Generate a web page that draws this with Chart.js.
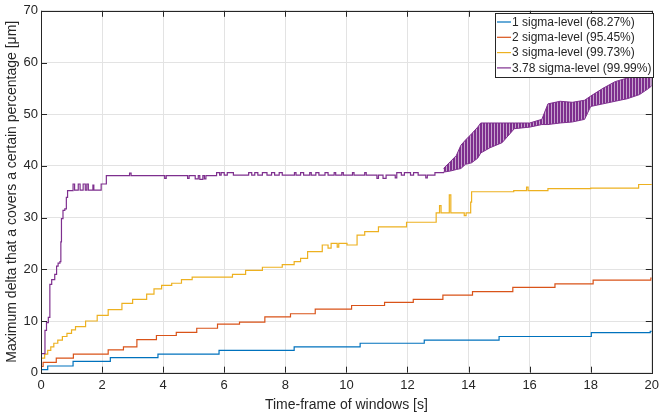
<!DOCTYPE html>
<html>
<head>
<meta charset="utf-8">
<script src="https://cdn.jsdelivr.net/npm/chart.js@4"></script>
<style>
  body { margin: 0; background: #fff; }
  canvas { display: block; }
</style>
</head>
<body>
<canvas id="chart" width="664" height="418"></canvas>
<script>
const seriesLabels = ["1 sigma-level (68.27%)", "2 sigma-level (95.45%)", "3 sigma-level (99.73%)", "3.78 sigma-level (99.99%)"];
const seriesColors = ["#0072BD", "#D95319", "#EDB120", "#7E2F8E"];

const xTicks = [0, 2, 4, 6, 8, 10, 12, 14, 16, 18, 20];
const yTicks = [0, 10, 20, 30, 40, 50, 60, 70];

// 1 sigma
const blueT = [0, 0.22, 1.05, 2.27, 3.83, 5.83, 8.29, 10.45, 12.55, 15.0, 18.02, 19.95, 20];
const blueV = [0.6, 1.3, 2.2, 2.9, 3.6, 4.3, 5.0, 5.7, 6.3, 7.0, 7.75, 8.0, 8.0];

// 2 sigma
const orangeT = [0, 0.07, 0.5, 1.06, 2.2, 2.7, 3.14, 3.78, 4.43, 5.1, 5.78, 6.5, 7.33, 8.17, 8.98, 10.17, 11.25, 12.19, 13.16, 14.13, 15.45, 16.83, 18.08, 19.97, 20];
const orangeV = [1.2, 2.0, 2.8, 3.6, 4.4, 5.0, 6.4, 7.2, 7.8, 8.6, 9.4, 9.8, 10.8, 11.4, 12.3, 13.0, 13.6, 14.2, 15.0, 15.7, 16.5, 17.2, 17.9, 18.3, 18.3];

// 3 sigma
const yellowT = [0, 0.12, 0.22, 0.32, 0.42, 0.55, 0.7, 0.85, 1.0, 1.13, 1.46, 1.84, 2.2, 2.65, 3.0, 3.46, 3.7, 3.95, 4.28, 4.6, 4.95, 6.27, 6.7, 7.25, 7.9, 8.29, 8.5, 8.73, 9.21, 9.4, 9.5, 9.7, 9.75, 10.02, 10.35, 10.6, 11.05, 11.97, 12.94, 13.05, 13.1, 13.37, 13.42, 13.86, 13.92, 14.07, 14.1, 15.48, 15.9, 15.95, 16.6, 18.0, 19.57, 20];
const yellowV = [2.8, 3.6, 4.3, 5.0, 5.7, 6.3, 7.0, 7.6, 8.3, 8.9, 10.0, 11.1, 12.2, 13.4, 14.2, 15.2, 16.2, 16.9, 17.3, 18.0, 18.5, 19.0, 19.8, 20.4, 20.9, 21.5, 22.1, 23.4, 24.7, 24.1, 25.0, 24.3, 25.0, 24.7, 26.6, 27.3, 28.2, 29.1, 30.9, 32.3, 30.9, 34.4, 30.9, 30.4, 30.9, 33.0, 35.0, 35.2, 35.9, 35.2, 35.6, 35.7, 36.4, 36.5];

// 3.78 sigma, up to where it starts to oscillate
const purpleT = [0, 0.13, 0.18, 0.24, 0.29, 0.35, 0.45, 0.51, 0.56, 0.62, 0.65, 0.67, 0.72, 0.78, 0.83, 0.87, 1.05, 1.1, 1.22, 1.28, 1.38, 1.45, 1.5, 1.55, 1.7, 1.73, 1.97, 2.14,
  2.9, 2.95, 4.05, 4.1, 4.8, 4.85, 5.05, 5.15, 5.2, 5.3, 5.35, 5.4, 5.75, 5.85, 5.9, 6.0, 6.1, 6.3,
  6.8, 6.9, 7.0, 7.1, 7.25, 7.4, 7.55, 7.65, 7.8, 7.9, 8.3, 8.35, 8.5, 8.6, 8.8, 8.85, 9.0, 9.1, 9.3, 9.4,
  9.6, 9.65, 9.85, 9.9, 10.2, 10.25, 10.6, 10.65, 11.0, 11.05, 11.2, 11.3, 11.6, 11.65, 11.8, 11.9, 12.1, 12.2, 12.35,
  12.6, 12.65, 12.9, 13.18];
const purpleV = [3.7, 8.2, 9.7, 10.7, 17.1, 18.0, 19.0, 20.6, 21.2, 21.5, 25.3, 29.8, 31.4, 31.7, 33.9, 35.2, 36.5, 35.3, 36.5, 35.3, 36.5, 35.3, 36.5, 35.3, 36.3, 35.3, 36.5, 38.1,
  38.6, 38.1, 37.6, 38.1, 37.6, 38.1, 37.5, 38.1, 37.4, 38.1, 37.5, 38.1, 38.7, 38.2, 38.7, 38.2, 38.7, 38.2,
  38.7, 38.2, 38.7, 38.2, 38.7, 38.2, 38.7, 38.2, 38.7, 38.2, 38.7, 38.2, 38.7, 38.2, 38.7, 38.2, 38.7, 38.2, 38.7, 38.2,
  38.7, 38.2, 38.7, 38.2, 38.7, 38.2, 38.7, 38.2, 37.6, 38.2, 37.6, 38.2, 37.7, 38.7, 38.2, 38.7, 38.2, 38.7, 38.2,
  37.7, 38.2, 38.7, 38.8];

// 3.78 sigma, oscillating part: upper and lower edge of the band
const bandT  = [13.18, 13.4, 13.6, 13.75, 13.9, 14.1, 14.3, 14.4, 14.7, 15.1, 15.5, 16.0, 16.4, 16.6, 17.0, 17.4, 17.8, 18.0, 18.4, 18.8, 19.2, 19.6, 19.9, 20.0];
const bandHi = [39.5, 40.8, 42.0, 44.0, 45.0, 46.2, 47.5, 48.3, 48.3, 48.3, 48.3, 48.3, 49.0, 52.0, 52.5, 52.3, 52.7, 53.5, 55.0, 56.3, 57.0, 57.5, 58.5, 62.5];
const bandLo = [38.8, 39.0, 39.3, 39.5, 40.3, 40.6, 41.5, 42.5, 43.5, 44.5, 47.2, 47.5, 48.0, 48.0, 48.3, 48.5, 49.0, 51.5, 52.0, 52.5, 53.0, 53.8, 55.0, 55.5];

const pts = (t, v) => t.map((x, i) => ({ x: x, y: v[i] }));

const textColor = "#262626";
const fontFamily = '"Liberation Sans", Arial, Helvetica, sans-serif';

function stepLine(i, t, v) {
    return {
        label: seriesLabels[i],
        data: pts(t, v),
        borderColor: seriesColors[i],
        borderWidth: 1.2,
        stepped: true,
        pointRadius: 0,
        fill: false,
        order: 4 - i
    };
}

// vertical stripes, so the band looks like the dense up/down lines
function stripePattern() {
    const c = document.createElement("canvas");
    c.width = 3;
    c.height = 4;
    const g = c.getContext("2d");
    g.fillStyle = "#7E2F8E";
    g.fillRect(0, 0, 2, 4);
    g.fillStyle = "#c6a3cd";
    g.fillRect(2, 0, 1, 4);
    return g.createPattern(c, "repeat");
}

// frame with inward ticks on all four sides
const framePlugin = {
    id: "frame",
    afterDatasetsDraw(chart) {
        const ctx = chart.ctx;
        const a = chart.chartArea;
        const xs = chart.scales.x;
        const ys = chart.scales.y;
        ctx.save();
        ctx.strokeStyle = textColor;
        ctx.lineWidth = 1;
        ctx.beginPath();
        xTicks.forEach((t) => {
            const px = Math.round(xs.getPixelForValue(t)) + 0.5;
            ctx.moveTo(px, a.bottom);
            ctx.lineTo(px, a.bottom - 6);
            ctx.moveTo(px, a.top);
            ctx.lineTo(px, a.top + 6);
        });
        yTicks.forEach((t) => {
            const py = Math.round(ys.getPixelForValue(t)) + 0.5;
            ctx.moveTo(a.left, py);
            ctx.lineTo(a.left + 6, py);
            ctx.moveTo(a.right, py);
            ctx.lineTo(a.right - 6, py);
        });
        ctx.stroke();
        ctx.strokeRect(Math.round(a.left) + 0.5, Math.round(a.top) + 0.5, Math.round(a.right - a.left), Math.round(a.bottom - a.top));
        ctx.restore();
    }
};

// MATLAB-like boxed legend in the top right corner
const legendPlugin = {
    id: "boxLegend",
    afterDraw(chart) {
        const ctx = chart.ctx;
        const x0 = 495, y0 = 13, w = 158, h = 64;
        ctx.save();
        ctx.fillStyle = "#fff";
        ctx.fillRect(x0, y0, w, h);
        ctx.strokeStyle = textColor;
        ctx.lineWidth = 1;
        ctx.strokeRect(x0 + 0.5, y0 + 0.5, w, h);
        ctx.font = "12px " + fontFamily;
        ctx.textBaseline = "middle";
        ctx.fillStyle = textColor;
        seriesLabels.forEach((label, i) => {
            const y = y0 + 9 + i * 15.3;
            ctx.strokeStyle = seriesColors[i];
            ctx.lineWidth = 1.2;
            ctx.beginPath();
            ctx.moveTo(x0 + 2, y);
            ctx.lineTo(x0 + 16, y);
            ctx.stroke();
            ctx.fillText(label, x0 + 17, y + 0.5);
        });
        ctx.restore();
    }
};

new Chart(document.getElementById("chart"), {
    type: "line",
    data: {
        datasets: [
            stepLine(0, blueT, blueV),
            stepLine(1, orangeT, orangeV),
            stepLine(2, yellowT, yellowV),
            stepLine(3, purpleT, purpleV),
            {
                label: "band-hi",
                data: pts(bandT, bandHi),
                borderColor: seriesColors[3],
                borderWidth: 1,
                pointRadius: 0,
                fill: false,
                order: 0
            },
            {
                label: "band-lo",
                data: pts(bandT, bandLo),
                borderColor: seriesColors[3],
                borderWidth: 1,
                pointRadius: 0,
                backgroundColor: stripePattern(),
                fill: { target: 4 },
                order: 0
            }
        ]
    },
    options: {
        responsive: false,
        animation: false,
        layout: { padding: { left: 0, top: 6, right: 6.5, bottom: 0 } },
        plugins: {
            legend: { display: false },
            tooltip: { enabled: false }
        },
        scales: {
            x: {
                type: "linear",
                min: 0,
                max: 20,
                afterFit(scale) { scale.height = 45.3; },
                afterBuildTicks(scale) { scale.ticks = xTicks.map((v) => ({ value: v })); },
                grid: { color: "#e3e3e3", drawTicks: false },
                border: { display: false },
                ticks: { color: textColor, padding: 5, font: { size: 13, family: fontFamily } },
                title: {
                    display: true,
                    text: "Time-frame of windows [s]",
                    color: textColor,
                    font: { size: 14, family: fontFamily }
                }
            },
            y: {
                min: 0,
                max: 70,
                afterFit(scale) { scale.width = 41; },
                afterBuildTicks(scale) { scale.ticks = yTicks.map((v) => ({ value: v })); },
                grid: { color: "#e3e3e3", drawTicks: false },
                border: { display: false },
                ticks: { color: textColor, padding: 3, font: { size: 13, family: fontFamily } },
                title: {
                    display: true,
                    text: "Maximum delta that a covers a certain percentage [μm]",
                    color: textColor,
                    font: { size: 14, family: fontFamily }
                }
            }
        }
    },
    plugins: [framePlugin, legendPlugin]
});
</script>
</body>
</html>
